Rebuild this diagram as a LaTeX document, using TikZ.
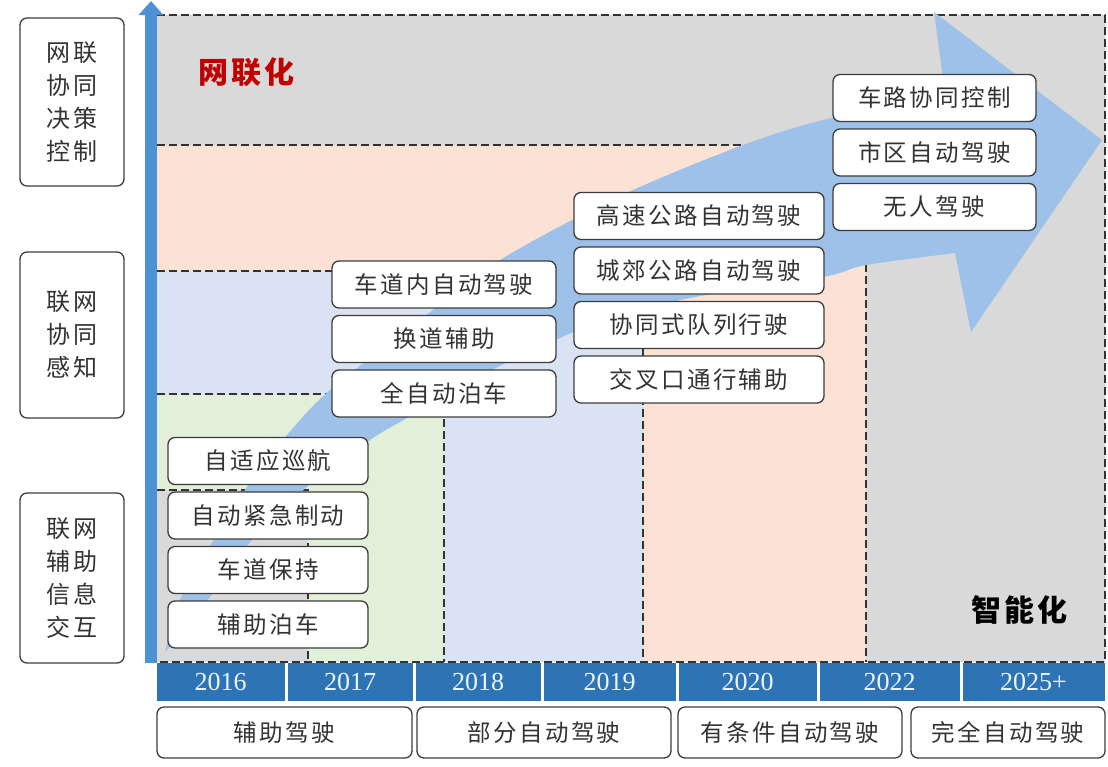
\documentclass[tikz,border=0pt]{standalone}
\usepackage{fontspec}
\setmainfont{Liberation Serif}
\newfontfamily\cjk[LetterSpace=10]{Noto Sans CJK SC}
\usetikzlibrary{shapes,arrows.meta,positioning}

\definecolor{bggray}{RGB}{217,217,217}
\definecolor{peach}{RGB}{251,226,213}
\definecolor{paleblue}{RGB}{218,227,243}
\definecolor{palegreen}{RGB}{226,240,217}
\definecolor{flowblue}{RGB}{157,193,232}
\definecolor{axisblue}{RGB}{78,146,214}
\definecolor{yearblue}{RGB}{46,116,181}
\definecolor{yeartext}{RGB}{235,246,255}
\definecolor{boxline}{RGB}{60,60,60}
\definecolor{darkred}{RGB}{192,0,0}

\tikzstyle{feature} = [rectangle, draw=boxline, line width=1.3pt, fill=white,
    rounded corners=7pt, minimum height=47pt, inner sep=0pt, text=black!80,
    font=\cjk\fontsize{23.5}{23.5}\selectfont]
\tikzstyle{tier} = [feature, minimum width=104pt, align=center,
    font=\cjk\fontsize{24}{33}\selectfont]
\tikzstyle{stage} = [feature, minimum height=51pt]
\tikzstyle{year} = [rectangle, fill=yearblue, minimum height=38pt, inner sep=0pt,
    text=yeartext, font=\fontsize{26}{26}\selectfont]
\tikzstyle{zoneline} = [draw=black!80, line width=1.2pt, dash pattern=on 8pt off 4pt]
\tikzstyle{title} = [font=\cjk\bfseries\fontsize{30}{30}\selectfont]

\begin{document}
\begin{tikzpicture}[x=1pt, y=-1pt, node distance=54.5pt]
		\useasboundingbox (0,0) rectangle (1108,766);
		% Draw regions
		\fill[bggray] (157,15) rectangle (1105,662);
		\fill[peach] (157,145) rectangle (866,662);
		\fill[paleblue] (157,271) rectangle (643,662);
		\fill[palegreen] (157,394) rectangle (444,662);
		\fill[bggray] (157,490) rectangle (308,662);
		\draw[zoneline] (157,15) -| (1105,662) -- (157,662);
		\draw[zoneline] (157,145) -| (866,662);
		\draw[zoneline] (157,271) -| (643,662);
		\draw[zoneline] (157,394) -| (444,662);
		\draw[zoneline] (157,490) -| (308,662);
		% Draw big arrow
		\fill[flowblue] plot[smooth] coordinates {(165,652) (180,600) (212,543) (247,487)
			(287,435) (330,390) (420,320) (500,260) (620,196) (743,145) (832,118) (946,100)}
			-- (934,12) -- (1102,140) -- (971,332)
			-- plot[smooth] coordinates {(955,253) (866,265) (823,277) (690,298) (600,322)
			(520,356) (460,387) (407,418) (370,440) (307,487) (250,542) (210,597) (165,652)}
			-- cycle;
		% Draw axis
		\coordinate (axisbot) at (151,663);
		\coordinate (axistop) at (151,1);
		\draw[axisblue, line width=12pt, -{Triangle[length=14pt, width=24pt]}] (axisbot) -- (axistop);
		% Draw tier labels
		\node[tier, minimum height=168pt] (decide) at (72,102) {网联\\协同\\决策\\控制};
		\node[tier, minimum height=166pt] (sense) at (72,335) {联网\\协同\\感知};
		\node[tier, minimum height=170pt] (inform) at (72,578) {联网\\辅助\\信息\\交互};
		% Draw feature nodes
		\node[feature, minimum width=200pt] (acc) at (268,461) {自适应巡航};
		\node[feature, minimum width=200pt, below of=acc] (aeb) {自动紧急制动};
		\node[feature, minimum width=200pt, below of=aeb] (lka) {车道保持};
		\node[feature, minimum width=200pt, below of=lka] (apa) {辅助泊车};
		\node[feature, minimum width=224pt] (inlane) at (444,284.5) {车道内自动驾驶};
		\node[feature, minimum width=224pt, below of=inlane] (lcassist) {换道辅助};
		\node[feature, minimum width=224pt, below of=lcassist] (fullpark) {全自动泊车};
		\node[feature, minimum width=250pt] (highway) at (699,216) {高速公路自动驾驶};
		\node[feature, minimum width=250pt, below of=highway] (suburb) {城郊公路自动驾驶};
		\node[feature, minimum width=250pt, below of=suburb] (platoon) {协同式队列行驶};
		\node[feature, minimum width=250pt, below of=platoon] (junction) {交叉口通行辅助};
		\node[feature, minimum width=203pt] (v2x) at (934.5,98) {车路协同控制};
		\node[feature, minimum width=203pt, below of=v2x] (urban) {市区自动驾驶};
		\node[feature, minimum width=203pt, below of=urban] (driverless) {无人驾驶};
		% Draw headings
		\node[title, text=darkred] (netlabel) at (246,72) {网联化};
		\node[title, text=black] (smartlabel) at (1019,610) {智能化};
		% Draw year bar
		\node[year, minimum width=128pt] (y2016) at (220.5,682) {2016};
		\node[year, minimum width=125pt] (y2017) at (350,682) {2017};
		\node[year, minimum width=125pt] (y2018) at (478,682) {2018};
		\node[year, minimum width=132pt] (y2019) at (609.5,682) {2019};
		\node[year, minimum width=138pt] (y2020) at (747.5,682) {2020};
		\node[year, minimum width=140pt] (y2022) at (889.5,682) {2022};
		\node[year, minimum width=142pt] (y2025) at (1033.5,682) {2025+};
		% Draw stages
		\node[stage, minimum width=255pt] (assist) at (284.5,732.5) {辅助驾驶};
		\node[stage, minimum width=254pt] (partial) at (544,732.5) {部分自动驾驶};
		\node[stage, minimum width=224pt] (cond) at (790,732.5) {有条件自动驾驶};
		\node[stage, minimum width=194pt] (full) at (1008,732.5) {完全自动驾驶};
	\end{tikzpicture}
\end{document}
